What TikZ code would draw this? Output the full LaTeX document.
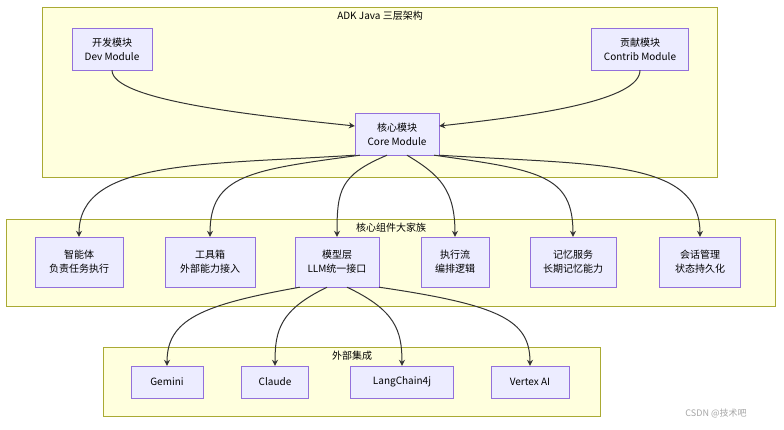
\documentclass[tikz,border=0pt]{standalone}
\usepackage{fontspec}
\setmainfont{Noto Sans CJK SC}
\usetikzlibrary{arrows.meta}
\definecolor{nf}{HTML}{ECECFF}\definecolor{nd}{HTML}{9370DB}
\definecolor{cf}{HTML}{FFFFDE}\definecolor{cd}{HTML}{AAAA33}
\definecolor{ed}{HTML}{333333}
\begin{document}
\begin{tikzpicture}[x=1pt,y=-1pt,
 n/.style={draw=nd,fill=nf,align=center,font=\fontsize{10}{14}\selectfont,inner sep=0pt,minimum height=#1},
 n/.default=42,
 cl/.style={draw=cd,fill=cf},
 tt/.style={font=\fontsize{10}{12}\selectfont},
 e/.style={draw=ed,line width=1pt,-{Stealth[length=6pt,width=6pt]}}]
\useasboundingbox (0,0) rectangle (784,429);
\fill[white] (0,0) rectangle (784,429);
\draw[cl] (42,7) rectangle (717,177);
\node[tt] (t1) at (380,16) {ADK Java 三层架构};
\draw[cl] (6,219) rectangle (775,306);
\node[tt] (t2) at (391,228) {核心组件大家族};
\draw[cl] (103,347) rectangle (600,416);
\node[tt] (t3) at (352,356) {外部集成};
\node[n,minimum width=80] (dev) at (112,49) {开发模块\\Dev Module};
\node[n,minimum width=97] (con) at (640,49) {贡献模块\\Contrib Module};
\node[n,minimum width=84] (core) at (397,134) {核心模块\\Core Module};
\node[n=50,minimum width=88] (a) at (79,262) {智能体\\负责任务执行};
\node[n=50,minimum width=90] (b) at (210,262) {工具箱\\外部能力接入};
\node[n=50,minimum width=84] (c) at (337,262) {模型层\\LLM统一接口};
\node[n=50,minimum width=68] (d) at (455,262) {执行流\\编排逻辑};
\node[n=50,minimum width=86] (f) at (573,262) {记忆服务\\长期记忆能力};
\node[n=50,minimum width=81] (g) at (700,262) {会话管理\\状态持久化};
\node[n=32,minimum width=72] (g1) at (167,382) {Gemini};
\node[n=32,minimum width=67] (g2) at (275,382) {Claude};
\node[n=32,minimum width=103] (g3) at (402,382) {LangChain4j};
\node[n=32,minimum width=78] (g4) at (530,382) {Vertex AI};
\draw[e] (dev.south) .. controls (112,100) and (250,115) .. (core.west|-0,126);
\draw[e] (con.south) .. controls (640,100) and (540,115) .. (core.east|-0,126);
\draw[e] (core.south west) .. controls (200,165) and (79,160) .. (a.north);
\draw[e] (core.south west)++(5,0) .. controls (250,170) and (210,175) .. (b.north);
\draw[e] (core.south)++(-10,0) .. controls (340,175) and (337,190) .. (c.north);
\draw[e] (core.south)++(10,0) .. controls (440,175) and (455,190) .. (d.north);
\draw[e] (core.south east)++(-5,0) .. controls (540,170) and (573,175) .. (f.north);
\draw[e] (core.south east) .. controls (600,165) and (700,160) .. (g.north);
\draw[e] (c.south west)++(5,0) .. controls (200,305) and (167,320) .. (g1.north);
\draw[e] (c.south)++(-10,0) .. controls (280,310) and (275,330) .. (g2.north);
\draw[e] (c.south)++(10,0) .. controls (395,310) and (402,330) .. (g3.north);
\draw[e] (c.south east) .. controls (500,305) and (530,320) .. (g4.north);
\node[font=\fontsize{9}{11}\selectfont,text=gray!70] (wm) at (716,413) {CSDN @技术吧};
\end{tikzpicture}
\end{document}
